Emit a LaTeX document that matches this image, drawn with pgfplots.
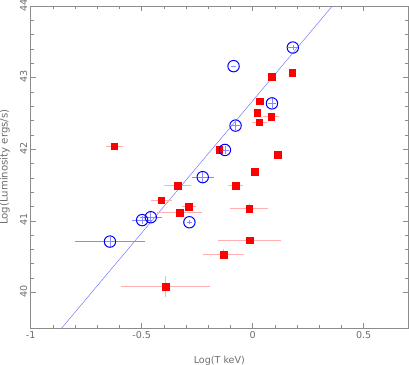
\documentclass[border=0pt]{standalone}
\usepackage{pgfplots}
\pgfplotsset{compat=1.18}
\usepackage{fontspec}
\setmainfont{DejaVu Sans}

\definecolor{framegray}{RGB}{140,140,140}
\definecolor{textgray}{RGB}{110,110,110}
\definecolor{fitblue}{RGB}{120,120,255}
\definecolor{errblue}{RGB}{135,135,255}
\definecolor{errred}{RGB}{255,175,175}

\begin{document}
\begin{tikzpicture}
\begin{axis}[
scale only axis,
width=377bp, height=322bp,
xmin=-1, xmax=0.7,
ymin=39.5, ymax=44,
xtick={-1,-0.5,0,0.5},
ytick={40,41,42,43,44},
minor x tick num=4,
minor y tick num=4,
tick align=inside,
tick pos=both,
xticklabel pos=lower,
yticklabel pos=left,
major tick length=5bp,
minor tick length=3bp,
axis line style={framegray, line width=0.8pt},
every tick/.style={framegray, line width=0.6pt},
tick label style={font=\fontsize{9.6}{11}\selectfont, text=textgray},
yticklabel style={rotate=90, anchor=south, xshift=1bp},
/pgf/number format/assume math mode=true,
xlabel={Log(T keV)},
ylabel={Log(Luminosity ergs/s)},
xlabel style={font=\fontsize{9.6}{11}\selectfont, text=textgray,
  at={(axis description cs:0.5,-0.0745)}, anchor=north},
ylabel style={font=\fontsize{10.2}{12}\selectfont, text=textgray,
  at={(axis description cs:-0.046,0.5)}, anchor=south},
clip=true,
]
% fit line
\addplot [fitblue, line width=0.5pt] coordinates {(-0.861,39.5) (0.359,44)};

% red squares
\addplot [only marks, mark=square*, mark size=3.3bp, color=red,
  error bars/.cd, x dir=both, x explicit, y dir=both, y explicit,
  error mark=none, error bar style={errred, line width=1pt}]
table [x=x, y=y, x error=ex, y error=ey] {
x y ex ey
-0.624 42.04 0.038 0.02
-0.412 41.29 0.047 0.03
-0.339 41.49 0.062 0.03
-0.329 41.11 0.100 0.05
-0.287 41.20 0.030 0.03
-0.391 40.08 0.200 0.15
-0.131 40.53 0.093 0.07
-0.151 41.99 0.020 0.02
-0.077 41.49 0.035 0.03
-0.015 41.17 0.085 0.06
-0.014 40.73 0.143 0.05
0.008 41.69 0.015 0.02
0.021 42.51 0.015 0.02
0.030 42.38 0.035 0.02
0.033 42.67 0.015 0.02
0.083 42.45 0.035 0.02
0.085 43.01 0.010 0.02
0.179 43.07 0.010 0.02
0.113 41.92 0.015 0.02
};

% blue circles
\addplot [only marks, mark=o, mark size=5.7bp, color=blue, mark options={line width=1pt},
  error bars/.cd, x dir=both, x explicit, y dir=both, y explicit,
  error mark=none, error bar style={errblue, line width=0.6pt}]
table [x=x, y=y, x error=ex, y error=ey] {
x y ex ey
-0.643 40.71 0.158 0.07
-0.498 41.01 0.045 0.06
-0.459 41.05 0.050 0.07
-0.285 40.98 0.010 0.03
-0.225 41.61 0.050 0.07
-0.125 41.99 0.020 0.05
-0.077 42.33 0.020 0.06
-0.086 43.16 0.010 0.00
0.087 42.64 0.020 0.07
0.181 43.42 0.020 0.03
};
\end{axis}
\pgfresetboundingbox
\path (current axis.south west) ++(-30.7bp,-36bp) coordinate (bbA);
\path (current axis.north east) ++(1bp,6bp) coordinate (bbB);
\path[use as bounding box] (bbA) rectangle (bbB);
\end{tikzpicture}
\end{document}
